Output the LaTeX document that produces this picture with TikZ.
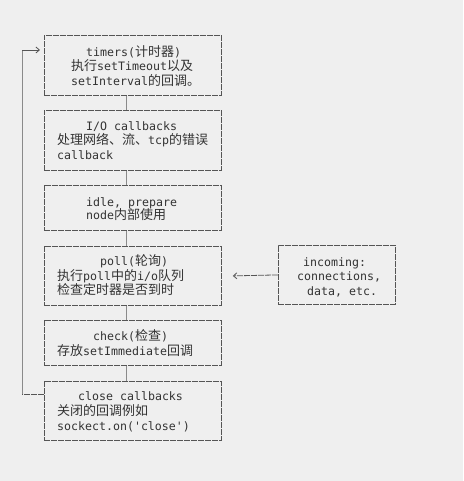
\documentclass[tikz,border=0pt]{standalone}
\usepackage{fontspec}
\newfontfamily\monof{DejaVu Sans Mono}
\newfontfamily\cjk{Noto Sans CJK SC}
\usetikzlibrary{arrows.meta,calc}
\definecolor{bg}{HTML}{EFEFEF}
\definecolor{linec}{HTML}{555555}
\definecolor{connc}{HTML}{8A8A8A}
\definecolor{textc}{HTML}{333333}
\newcommand{\zh}[1]{{\cjk\fontsize{13}{14}\selectfont #1}}
\begin{document}
\begin{tikzpicture}[x=1pt,y=-1pt,
  stagebox/.style={draw=linec, line width=0.8pt, dash pattern=on 6pt off 1pt, minimum width=177pt, inner sep=0pt, anchor=north west},
  incbox/.style={draw=linec, line width=0.8pt, dash pattern=on 6pt off 1pt, minimum width=117pt, minimum height=59pt, inner sep=0pt, anchor=north west},
  txt/.style={anchor=base west, inner sep=0pt, text=textc, font=\monof\fontsize{11.6}{14}\selectfont},
  conn/.style={draw=connc, line width=0.9pt},
  loopline/.style={draw=linec, line width=0.8pt},
  tip/.style={-{Straight Barb[length=3.5pt,width=6pt]}}
]
\fill[bg] (0,0) rectangle (463,481);
\useasboundingbox (0,0) rectangle (463,481);

% stage boxes
\node[stagebox, minimum height=60pt] (b1) at (44,35) {};
\node[stagebox, minimum height=60pt] (b2) at (44,110) {};
\node[stagebox, minimum height=45pt] (b3) at (44,185) {};
\node[stagebox, minimum height=59pt] (b4) at (44,246) {};
\node[stagebox, minimum height=45pt] (b5) at (44,320) {};
\node[stagebox, minimum height=59pt] (b6) at (44,381) {};
\node[incbox] (inc) at (278,245) {};

% texts
\node[txt] (t11) at (86,56.5) {timers(\zh{计时器})};
\node[txt] (t12) at (71,71) {\zh{执行}setTimeout\zh{以及}};
\node[txt] (t13) at (71,85.5) {setInterval\zh{的回调。}};

\node[txt] (t21) at (86,130.5) {I/O callbacks};
\node[txt] (t22) at (57,145) {\zh{处理网络、流、}tcp\zh{的错误}};
\node[txt] (t23) at (57,160) {callback};

\node[txt] (t31) at (86,206) {idle, prepare};
\node[txt] (t32) at (86,219.5) {node\zh{内部使用}};

\node[txt] (t41) at (100,265) {poll(\zh{轮询})};
\node[txt] (t42) at (57,280.5) {\zh{执行}poll\zh{中的}i/o\zh{队列}};
\node[txt] (t43) at (57,294.5) {\zh{检查定时器是否到时}};

\node[txt] (t51) at (93,340.5) {check(\zh{检查})};
\node[txt] (t52) at (57,355) {\zh{存放}setImmediate\zh{回调}};

\node[txt] (t61) at (78,400.5) {close callbacks};
\node[txt] (t62) at (57,415) {\zh{关闭的回调例如}};
\node[txt] (t63) at (57,430.5) {sockect.on('close')};

\node[txt] (i1) at (303,266.5) {incoming:};
\node[txt] (i2) at (297,280.5) {connections,};
\node[txt] (i3) at (307,295) {data, etc.};

% vertical connectors
\foreach \a/\b in {b1/b2,b2/b3,b3/b4,b4/b5,b5/b6}
  \draw[conn] ([xshift=-6.5pt]\a.south) -- ([xshift=-6.5pt]\b.north);

% loop back
\coordinate (lb) at (22,394);
\coordinate (lt) at (22,50);
\coordinate (la) at (40,50);
\draw[loopline, dash pattern=on 6pt off 1pt] (b6.west |- lb) -- (lb);
\draw[loopline, draw=connc] (lb) -- (lt);
\draw[loopline, tip] (lt) -- (la);

% incoming arrow
\coordinate (pa) at ($(b4.east)+(11,0)$);
\draw[loopline, dash pattern=on 6pt off 1pt, tip] (inc.west) -- (pa);
\end{tikzpicture}
\end{document}
